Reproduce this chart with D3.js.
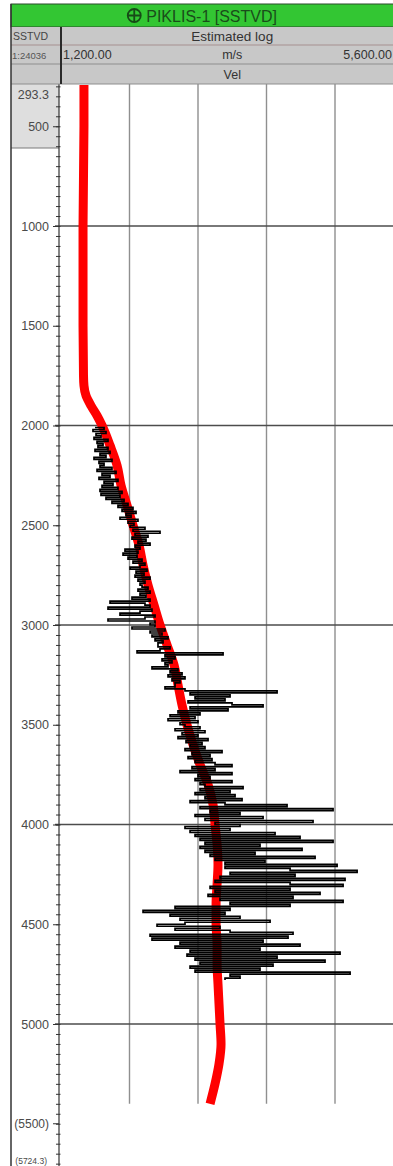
<!DOCTYPE html>
<html>
<head>
<meta charset="utf-8">
<script src="https://cdn.jsdelivr.net/npm/d3@7/dist/d3.min.js"></script>
<style>
	html, body { margin: 0; padding: 0; background: #fff; }
	svg { display: block; font-family: "Liberation Sans", Arial, sans-serif; }
</style>
</head>
<body>
<div id="chart"></div>
<script>
// header texts
const wellName = 'PIKLIS-1 [SSTVD]';
const depthRef = 'SSTVD';
const scaleText = '1:24036';
const logTitle = 'Estimated log';
const unitText = 'm/s';
const curveName = 'Vel';

// velocity axis (m/s) and depth window (m)
const velRange = [1200, 5600];
const velGrid = [2080, 2960, 3840, 4720];
const depthTop = 293.3;
const depthBottom = 5724.3;
const depthLabels = [500, 1000, 1500, 2000, 2500, 3000, 3500, 4000, 4500, 5000];
const depthGrid = [1000, 2000, 3000, 4000, 5000];
const gridEnd = 5400;

// smoothed velocity (red)
const smoothDepth = [293.3, 500, 1000, 1500, 1750, 1800, 1850, 1900, 1950, 2000, 2100, 2200, 2300, 2400, 2500,
	2600, 2700, 2800, 2900, 3000, 3100, 3200, 3300, 3400, 3500, 3600, 3700, 3800, 3900, 4000, 4100, 4200,
	4300, 4400, 4500, 4600, 4700, 4800, 4900, 5000, 5100, 5200, 5300, 5400];
const smoothVel = [1495, 1495, 1483, 1483, 1489, 1495, 1521, 1585, 1662, 1727, 1830, 1920, 1971, 2048, 2125,
	2202, 2254, 2318, 2395, 2472, 2562, 2652, 2703, 2754, 2818, 2896, 2986, 3089, 3153, 3179, 3205, 3217,
	3205, 3192, 3192, 3205, 3205, 3217, 3230, 3243, 3256, 3230, 3179, 3115];

// raw velocity log (black), one sample every 10 m from 2010 m
const rawTop = 2010;
const rawStep = 10;
const rawVel = [
	1637, 1753, 1611, 1778, 1650, 1714, 1624, 1804, 1663, 1740,
	1675, 1804, 1637, 1830, 1701, 1778, 1624, 1855, 1688, 1753,
	1701, 1855, 1663, 1907, 1727, 1830, 1688, 1932, 1753, 1868,
	1727, 1932, 1701, 1984, 1714, 1958, 1778, 2010, 1855, 2061,
	1932, 2125, 1984, 2164, 2035, 2100, 1958, 2189, 2061, 2138,
	2087, 2279, 2125, 2472, 2151, 2318, 2112, 2292, 2189, 2344,
	2151, 2215, 2022, 2189, 1997, 2177, 2061, 2241, 2125, 2279,
	2215, 2087, 2305, 2164, 2267, 2151, 2344, 2189, 2279, 2215,
	2241, 2318, 2189, 2344, 2215, 2292, 2112, 2344, 1830, 2279,
	2344, 1804, 2369, 2215, 1958, 2408, 2279, 1804, 2408, 2344,
	2408, 2112, 2536, 2344, 2498, 2369, 2575, 2408, 2511, 2446,
	2446, 2601, 2472, 2177, 3282, 2536, 2665, 2498, 2626, 2536,
	2575, 2369, 2703, 2601, 2755, 2575, 2793, 2626, 2729, 2665,
	2665, 2536, 2793, 3976, 2858, 3372, 2922, 3307, 2832, 3397,
	3796, 2858, 3346, 2703, 2986, 2601, 2922, 2575, 2960, 2729,
	2793, 2986, 2665, 3050, 2755, 2960, 2703, 3089, 2806, 3012,
	2858, 3050, 2793, 3269, 2883, 3115, 2832, 3140, 2922, 3179,
	3397, 2883, 3179, 2729, 3397, 2960, 3115, 2922, 3397, 2986,
	3050, 3539, 2986, 3372, 2922, 3436, 3050, 3526, 2858, 3307,
	4104, 2986, 4695, 3115, 3500, 2922, 3796, 3050, 4438, 3179,
	3500, 2793, 3372, 2858, 3950, 2922, 4271, 2986, 4695, 3050,
	3757, 2986, 4297, 3050, 3693, 3115, 4464, 3179, 3821, 3307,
	4747, 3307, 4143, 5004, 3372, 4207, 3243, 4849, 3179, 4143,
	4824, 3115, 4143, 3179, 4528, 3089, 4181, 3243, 4824, 3372,
	4143, 2665, 3372, 2254, 3307, 2601, 3500, 2729, 3886, 2793,
	2434, 3243, 2665, 3372, 4181, 2344, 4117, 2369, 3796, 2729,
	4271, 2665, 3757, 2858, 4785, 2819, 3976, 2922, 4592, 2986,
	3924, 2858, 3757, 2922, 4914, 3372, 3500, 3307
];

const width = 393;
const height = 1166;
const trackLeft = 11;
const axisX = 59;
const logLeft = 61;
const logRight = 403.5;
const plotTop = 84;

const svg = d3.select('#chart')
	.append('svg')
		.attr('width', width)
		.attr('height', height);

const x = d3.scaleLinear().domain(velRange).range([logLeft, logRight]);
const y = d3.scaleLinear().domain([1000, 5000]).range([226, 1024]);

// ---- header ----
function renderHeader() {
	const head = svg.append('g').attr('class', 'header');
	const midX = (trackLeft + logRight) / 2;
	const logMid = (logLeft + logRight) / 2;

	head.append('rect')
		.attr('x', trackLeft).attr('y', 4)
		.attr('width', logRight - trackLeft).attr('height', 23)
		.style('fill', '#33c633')
		.style('stroke', '#2b4a2b').style('stroke-width', 1);

	// well symbol
	const sym = head.append('g').attr('transform', `translate(${midX - 73},15.5)`);
	sym.append('circle').attr('r', 6.5)
		.style('fill', 'none').style('stroke', '#174a17').style('stroke-width', 1.8);
	sym.append('path').attr('d', 'M-6.5,0H6.5M0,-6.5V6.5')
		.style('stroke', '#174a17').style('stroke-width', 1.8);

	head.append('text')
		.attr('x', midX - 61).attr('y', 21.5)
		.style('font-size', '16px')
		.style('fill', '#1a4d1a')
		.text(wellName);

	const rows = [[27, 45], [45, 64], [64, 84]];
	head.selectAll('rect.row')
		.data(rows)
		.enter()
		.append('rect')
			.attr('class', 'row')
			.attr('x', trackLeft)
			.attr('y', d => d[0])
			.attr('width', logRight - trackLeft)
			.attr('height', d => d[1] - d[0])
			.style('fill', '#c8c8c8');

	head.selectAll('line.sep')
		.data([45, 64, 84])
		.enter()
		.append('line')
			.attr('class', 'sep')
			.attr('x1', trackLeft).attr('x2', logRight)
			.attr('y1', d => d).attr('y2', d => d)
			.style('stroke', (d, i) => i === 0 ? '#a58f8f' : '#8e8e8e')
			.style('stroke-width', 1.2);

	head.append('line')
		.attr('x1', logLeft).attr('x2', logLeft)
		.attr('y1', 27).attr('y2', plotTop)
		.style('stroke', '#2a2a2a').style('stroke-width', 2);

	const txt = (tx, ty, s, size, anchor, fill) => head.append('text')
		.attr('x', tx).attr('y', ty)
		.attr('text-anchor', anchor)
		.style('font-size', size)
		.style('fill', fill || '#333')
		.text(s);

	txt(13, 40, depthRef, '10.5px', 'start', '#444');
	txt(12, 58.5, scaleText, '9.5px', 'start', '#555');
	txt(logMid, 41, logTitle, '13.5px', 'middle');
	txt(63, 59, d3.format(',.2f')(velRange[0]), '12.5px', 'start');
	txt(logMid, 59, unitText, '12.5px', 'middle');
	txt(width - 1, 59, d3.format(',.2f')(velRange[1]), '12.5px', 'end');
	txt(logMid, 79, curveName, '12.5px', 'middle');
}

// ---- depth track ----
function renderDepthTrack() {
	const g = svg.append('g').attr('class', 'depth');

	g.append('rect')
		.attr('x', trackLeft).attr('y', plotTop)
		.attr('width', axisX - trackLeft).attr('height', 64)
		.style('fill', '#dedede');
	g.append('line')
		.attr('x1', trackLeft).attr('x2', axisX)
		.attr('y1', 148).attr('y2', 148)
		.style('stroke', '#7a7a7a');

	// minor ticks every 50 m
	const minor = d3.axisLeft(y)
		.tickValues(d3.range(300, depthBottom, 50))
		.tickSizeInner(3)
		.tickSizeOuter(0)
		.tickFormat('');
	g.append('g')
		.attr('transform', `translate(${axisX},0)`)
		.call(minor)
		.call(s => s.select('.domain').remove())
		.call(s => s.selectAll('.tick line').attr('x2', -3).attr('x1', 1.5).style('stroke', '#333'));

	const major = d3.axisLeft(y)
		.tickValues(depthLabels)
		.tickSize(6)
		.tickPadding(4)
		.tickFormat(d3.format('d'));
	g.append('g')
		.attr('transform', `translate(${axisX},0)`)
		.call(major)
		.call(s => s.select('.domain').remove())
		.call(s => s.selectAll('.tick line').style('stroke', '#333'))
		.call(s => s.selectAll('.tick text')
			.style('font-size', '12.5px')
			.style('fill', '#4a4a4a')
			.style('font-family', '"Liberation Sans", Arial, sans-serif'));

	g.append('line')
		.attr('x1', axisX).attr('x2', axisX)
		.attr('y1', plotTop).attr('y2', height)
		.style('stroke', '#333').style('stroke-width', 1.2);

	g.append('text')
		.attr('x', axisX - 10).attr('y', y(depthTop) + 14)
		.attr('text-anchor', 'end')
		.style('font-size', '12.5px').style('fill', '#4a4a4a')
		.text(depthTop.toFixed(1));

	g.append('text')
		.attr('x', axisX - 10).attr('y', y(5500) + 4.5)
		.attr('text-anchor', 'end')
		.style('font-size', '12px').style('fill', '#4a4a4a')
		.text('(5500)');
	g.append('line')
		.attr('x1', axisX - 6).attr('x2', axisX)
		.attr('y1', y(5500)).attr('y2', y(5500))
		.style('stroke', '#333');

	g.append('text')
		.attr('x', axisX - 12).attr('y', y(depthBottom) - 4)
		.attr('text-anchor', 'end')
		.style('font-size', '8.5px').style('fill', '#4a4a4a')
		.text(`(${depthBottom.toFixed(1)})`);
}

// ---- log track grid ----
function renderGrid() {
	const g = svg.append('g').attr('class', 'grid');
	g.selectAll('line.v')
		.data(velGrid)
		.enter()
		.append('line')
			.attr('class', 'v')
			.attr('x1', d => x(d)).attr('x2', d => x(d))
			.attr('y1', plotTop).attr('y2', y(gridEnd))
			.style('stroke', '#8f8f8f').style('stroke-width', 1.4);
	g.selectAll('line.h')
		.data(depthGrid)
		.enter()
		.append('line')
			.attr('class', 'h')
			.attr('x1', axisX - 4).attr('x2', logRight)
			.attr('y1', d => y(d)).attr('y2', d => y(d))
			.style('stroke', '#4d4d4d').style('stroke-width', 1.5);
}

// ---- curves ----
function renderCurves() {
	const smooth = smoothDepth.map((d, i) => ({ depth: d, vel: smoothVel[i] }));
	const raw = rawVel.map((v, i) => ({ depth: rawTop + i * rawStep, vel: v }));

	const redLine = d3.line()
		.x(d => x(d.vel))
		.y(d => y(d.depth))
		.curve(d3.curveMonotoneY);
	svg.append('path')
		.datum(smooth)
		.attr('d', redLine)
		.style('fill', 'none')
		.style('stroke', '#ff0000')
		.style('stroke-width', 9);

	const blackLine = d3.line()
		.x(d => x(d.vel))
		.y(d => y(d.depth))
		.curve(d3.curveStepAfter);
	svg.append('path')
		.datum(raw)
		.attr('d', blackLine)
		.style('fill', 'none')
		.style('stroke', '#000')
		.style('stroke-width', 1.7);
}

renderGrid();
renderCurves();
renderDepthTrack();
renderHeader();

// outer left border
svg.append('line')
	.attr('x1', trackLeft).attr('x2', trackLeft)
	.attr('y1', 4).attr('y2', height)
	.style('stroke', '#333').style('stroke-width', 1.5);
</script>
</body>
</html>
